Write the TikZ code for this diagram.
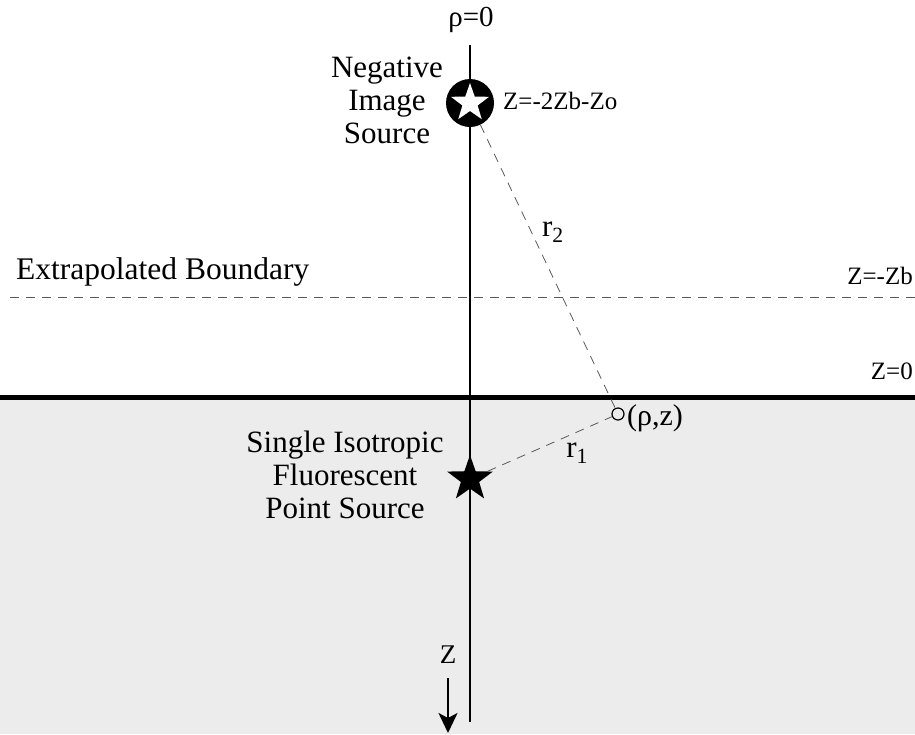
\documentclass[tikz,border=0pt]{standalone}
\usepackage{fontspec}
\setmainfont{Liberation Serif}
\usepackage{xcolor}
\definecolor{tissue}{RGB}{236,236,236}
\usetikzlibrary{arrows.meta,shapes.geometric,positioning}

\begin{document}
\begin{tikzpicture}[x=1pt,y=-1pt,
  big/.style={font=\fontsize{31}{33}\selectfont,align=center,inner sep=0pt},
  lbl/.style={font=\fontsize{25}{28}\selectfont,inner sep=0pt},
  ray/.style={gray!70!black,line width=0.8pt,dash pattern=on 9pt off 7pt},
  starmark/.style={star,star points=5,star point ratio=2.5,inner sep=0pt}]
  \useasboundingbox (0,0) rectangle (915,734);
  % tissue below the surface
  \fill[tissue] (0,397) rectangle (915,734);
  \draw[ray] (10,297) -- (915,297);
  \draw[line width=5pt] (0,397) -- (915,397);
  % axis rho=0
  \node[lbl,font=\fontsize{29}{30}\selectfont] (rho0) at (471,20) {ρ=0};
  \coordinate (axtop) at (470,45);
  \coordinate (axbot) at (470,722);
  \draw[line width=2.6pt] (axtop) -- (axbot);
  % sources
  \node[circle,fill=black,minimum size=48pt,inner sep=0pt] (imgsrc) at (470,103) {};
  \node[starmark,fill=white,minimum size=40pt] at (imgsrc) {};
  \node[starmark,fill=black,minimum size=48pt] (ptsrc) at (470,479) {};
  \node[circle,draw,line width=1.2pt,minimum size=12pt,inner sep=0pt] (obs) at (618,414) {};
  % distances
  \draw[ray] (imgsrc) -- (obs) node[pos=0.38,right=10pt,black,lbl,font=\fontsize{31}{33}\selectfont] {r\textsubscript{2}};
  \draw[ray] (ptsrc) -- (obs) node[pos=0.72,below=11pt,black,lbl,font=\fontsize{31}{33}\selectfont] {r\textsubscript{1}};
  % labels
  \node[lbl,font=\fontsize{30}{30}\selectfont,anchor=west] (obslbl) at (627,418) {(ρ,z)};
  \node[big] (imglbl) at (387,100) {Negative\\Image\\Source};
  \node[lbl,anchor=west] (imgz) at (503,101) {Z=-2Zb-Zo};
  \node[big] (srclbl) at (345,475) {Single Isotropic\\Fluorescent\\Point Source};
  \node[big,anchor=west,font=\fontsize{31.5}{33}\selectfont] (extlbl) at (16,272) {Extrapolated Boundary};
  \node[lbl,anchor=east] (zb) at (913,276) {Z=-Zb};
  \node[lbl,anchor=east] (z0) at (913,371) {Z=0};
  % depth direction
  \node[lbl,font=\fontsize{27}{28}\selectfont] (zdir) at (448,655) {Z};
  \coordinate (zend) at (448,733);
  \draw[line width=2pt,-{Stealth[length=20pt,width=19pt,inset=5pt]}] ([yshift=-14pt]zdir.south) -- (zend);
\end{tikzpicture}
\end{document}
